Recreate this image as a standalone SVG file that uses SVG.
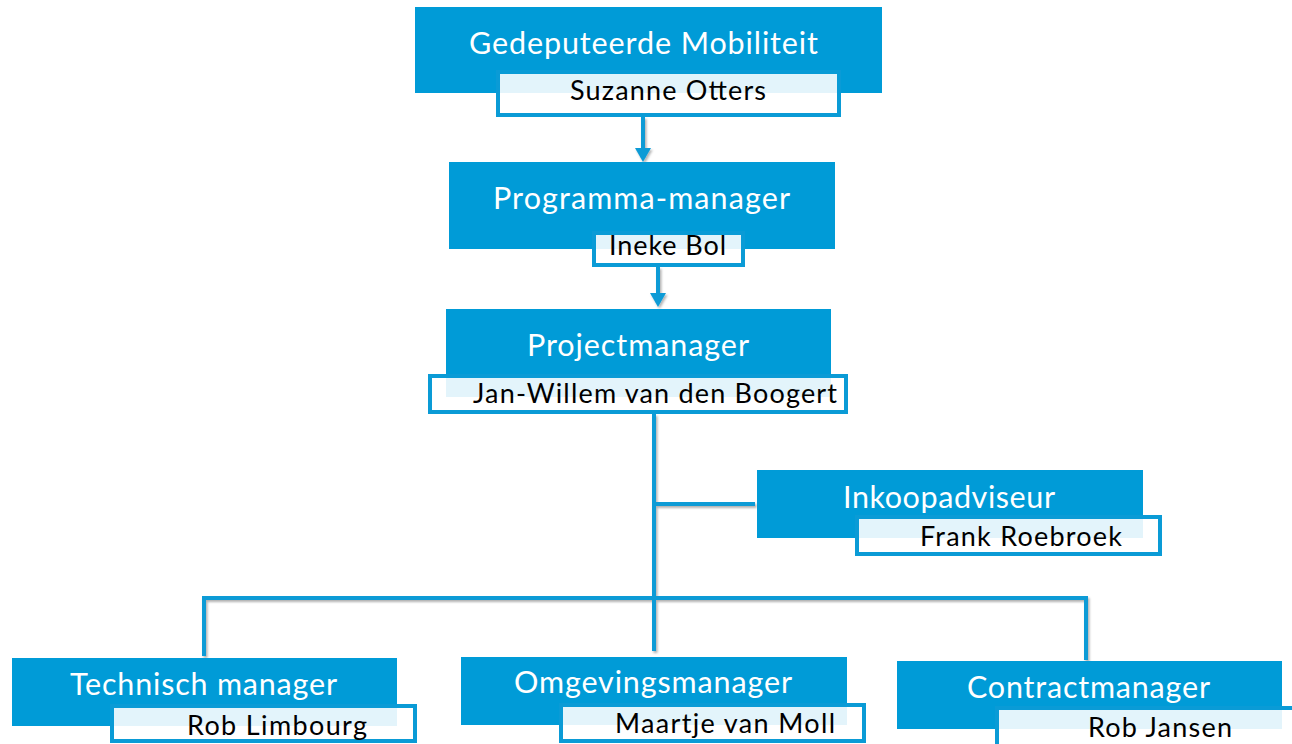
<svg xmlns="http://www.w3.org/2000/svg" width="1292" height="744" viewBox="0 0 1292 744">
<style>
.box{fill:#009BD7}
.name{fill:#ffffff;fill-opacity:0.89;stroke:#0A9BD6;stroke-width:4}
.t{font-family:Lato,"Open Sans","Liberation Sans",sans-serif;font-size:30.5px;fill:#ffffff}
.n{font-family:Lato,"Open Sans","Liberation Sans",sans-serif;font-size:27px;fill:#000000}
.ln{fill:none;stroke:#0A9BD6;stroke-width:4}
.ah{fill:#0A9BD6}
</style>
<defs>
<filter id="sh" x="-5%" y="-5%" width="110%" height="120%">
<feDropShadow dx="1.5" dy="2" stdDeviation="1.2" flood-color="#000" flood-opacity="0.3"/>
</filter>
</defs>
<rect width="1292" height="744" fill="#ffffff"/>
<g id="connectors" filter="url(#sh)">
<line class="ln" x1="643" y1="117" x2="643" y2="150"/>
<polygon class="ah" points="635,148 651,148 643,162"/>
<line class="ln" x1="658" y1="267" x2="658" y2="295"/>
<polygon class="ah" points="650,293 666,293 658,307"/>
<line class="ln" x1="654" y1="414" x2="654" y2="651"/>
<line class="ln" x1="654" y1="504" x2="755" y2="504"/>
<polyline class="ln" points="204,656 204,598 1086,598 1086,660"/>
</g>
<g id="n1">
<rect class="box" x="415" y="7" width="467" height="86"/>
<rect class="name" x="498" y="72" width="341" height="43"/>
<text class="t" x="469" y="54" textLength="349">Gedeputeerde Mobiliteit</text>
<text class="n" x="570" y="100" textLength="196">Suzanne Otters</text>
</g>
<g id="n2">
<rect class="box" x="449" y="162" width="386" height="87"/>
<rect class="name" x="594" y="233" width="149" height="32"/>
<text class="t" x="493" y="209" textLength="297">Programma-manager</text>
<text class="n" x="609" y="255" textLength="117">Ineke Bol</text>
</g>
<g id="n3">
<rect class="box" x="446" y="309" width="385" height="88"/>
<rect class="name" x="430" y="376" width="416" height="36"/>
<text class="t" x="527" y="356" textLength="222">Projectmanager</text>
<text class="n" x="473" y="403" textLength="364">Jan-Willem van den Boogert</text>
</g>
<g id="n4">
<rect class="box" x="757" y="470" width="386" height="68"/>
<rect class="name" x="857" y="517" width="303" height="37"/>
<text class="t" x="843" y="508" textLength="212">Inkoopadviseur</text>
<text class="n" x="920" y="546" textLength="202">Frank Roebroek</text>
</g>
<g id="n5">
<rect class="box" x="12" y="658" width="385" height="68"/>
<rect class="name" x="112" y="706" width="303" height="35"/>
<text class="t" x="70" y="695" textLength="267">Technisch manager</text>
<text class="n" x="187" y="735" textLength="180">Rob Limbourg</text>
</g>
<g id="n6">
<rect class="box" x="461" y="657" width="386" height="68"/>
<rect class="name" x="561" y="705" width="303" height="36"/>
<text class="t" x="514" y="693" textLength="278">Omgevingsmanager</text>
<text class="n" x="615" y="733" textLength="220">Maartje van Moll</text>
</g>
<g id="n7">
<rect class="box" x="897" y="661" width="385" height="68"/>
<rect class="name" x="997" y="708" width="300" height="40"/>
<text class="t" x="967" y="698" textLength="243">Contractmanager</text>
<text class="n" x="1088" y="737" textLength="144">Rob Jansen</text>
</g>
</svg>
